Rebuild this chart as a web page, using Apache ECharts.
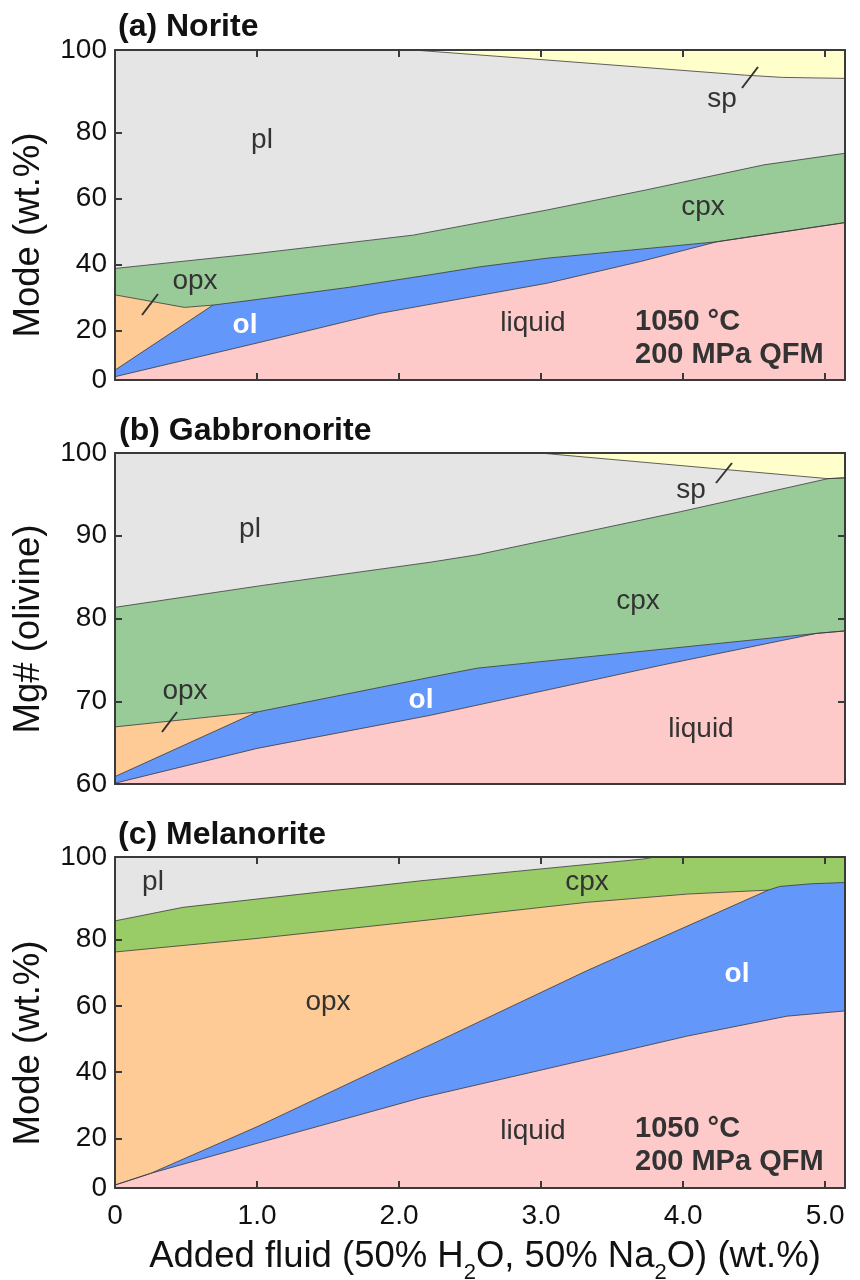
<!DOCTYPE html>
<html>
<head>
<meta charset="utf-8">
<script src="https://cdn.jsdelivr.net/npm/echarts@6/dist/echarts.min.js"></script>
<style>
html,body{margin:0;padding:0;background:#fff;}
#chart{width:860px;height:1280px;}
</style>
</head>
<body>
<div id="chart"></div>
<script>
// ---------- DATA (boundary tops of each phase field, cumulative wt.% / Mg#) ----------
// x = added fluid (wt.%)
// Panel (a) Norite
const aSpTop     = [[0,100],[5.14,100]];
const aPlTop     = [[0,100],[2.1,100],[3.0,97.1],[4.43,92.4],[4.7,91.7],[5.14,91.4]];
const aCpxTop    = [[0,33.8],[0.97,38.2],[2.10,43.9],[3.04,51.5],[3.74,57.6],[4.57,65.2],[5.14,68.7]];
const aOpxTop    = [[0,25.8],[0.49,22.0],[0.69,22.7]];
const aOlTop     = [[0,3.0],[0.69,22.7],[0.93,24.0],[1.65,28.1],[2.22,31.9],[2.57,34.3],[3.04,36.9],[4.24,41.9],[5.14,47.7]];
const aLiquidTop = [[0,1.0],[1.0,11.2],[1.866,20.2],[3.04,29.3],[3.70,35.9],[4.24,41.9],[5.14,47.7]];
// Panel (b) Gabbronorite (Mg# olivine axis)
const bSpTop     = [[0,100],[5.14,100]];
const bPlTop     = [[0,100],[2.99,100],[5.02,96.9],[5.14,97.0]];
const bCpxTop    = [[0,81.35],[1.04,84.0],[2.22,86.8],[2.55,87.7],[3.98,92.9],[5.02,96.9],[5.14,97.0]];
const bOpxTop    = [[0,66.9],[1.0,68.7]];
const bOlTop     = [[0,60.9],[1.0,68.7],[2.22,72.9],[2.55,74.0],[4.94,78.2],[5.14,78.5]];
const bLiquidTop = [[0,60.1],[1.0,64.3],[2.22,68.3],[3.86,74.4],[4.94,78.2],[5.14,78.5]];
// Panel (c) Melanorite
const cPlTop     = [[0,100],[5.14,100]];
const cCpxTop    = [[0,80.7],[0.48,84.8],[1.0,87.3],[2.15,92.8],[3.0,96.4],[3.72,99.4],[3.8,100],[5.14,100]];
const cOpxTop    = [[0,71.3],[1.0,75.4],[2.15,80.7],[3.32,86.3],[4.03,88.8],[4.6,90.0]];
const cOlTop     = [[0,0.9],[0.25,4.4],[1.0,18.5],[2.15,41.8],[3.32,65.6],[4.6,90.0],[4.68,91.1],[4.9,91.9],[5.14,92.3]];
const cLiquidTop = [[0,0.9],[0.25,4.4],[1.0,13.5],[2.15,27.2],[3.32,38.8],[4.03,45.9],[4.73,51.9],[5.14,53.5]];

// Axes / ticks
const xMax = 5.14;
const xTickValues = [0,1,2,3,4,5];
const xTickLabels = ['0','1.0','2.0','3.0','4.0','5.0'];
const modeLabelValues = [0,15,35,55,75,100];
const modeTickLabels  = ['0','20','40','60','80','100'];
const mgTickValues = [60,70,80,90,100];
const mgTickLabels = ['60','70','80','90','100'];

// ---------- CHART ----------
const FONT = '"Liberation Sans", Arial, Helvetica, sans-serif';
const C = {liquid:'#FDC9C9', ol:'#6497FA', opx:'#FECB97', cpx:'#99CB99', cpxC:'#99CB66', pl:'#E5E5E5', sp:'#FFFFCC'};
const AX = '#3a3a3a';

const chart = echarts.init(document.getElementById('chart'), null, {renderer:'canvas'});

const grids = [
  {left:115, top:50,  width:730, height:330},
  {left:115, top:453, width:730, height:331},
  {left:115, top:857, width:730, height:331}
];

function xAxisPair(gi, showTicks, showLabels){
  const base = {
    type:'value', gridIndex:gi, min:0, max:xMax, interval:1, z:10,
    splitLine:{show:false},
    axisLine:{show:true, onZero:false, lineStyle:{color:AX, width:2}},
    axisTick:{show:showTicks, inside:true, length:7, lineStyle:{color:AX, width:2}, customValues:xTickValues.slice(1)}
  };
  return [
    Object.assign({}, base, {position:'bottom',
      axisLabel:{show:showLabels, customValues:xTickValues, margin:14, fontSize:28, color:'#111', fontFamily:FONT,
        formatter:v=>{const i=xTickValues.indexOf(v);return i>=0?xTickLabels[i]:'';}}}),
    Object.assign({}, base, {position:'top', axisLabel:{show:false}})
  ];
}
function yAxisPair(gi, mode, rightTicks){
  const labelVals = mode ? modeLabelValues : mgTickValues;
  const labelTxt  = mode ? modeTickLabels : mgTickLabels;
  const tickVals  = labelVals.slice(1, labelVals.length-1);
  const base = {
    type:'value', gridIndex:gi, min:mode?0:60, max:100, z:10,
    splitLine:{show:false},
    axisLine:{show:true, onZero:false, lineStyle:{color:AX, width:2}},
  };
  return [
    Object.assign({}, base, {position:'left',
      axisTick:{show:true, inside:true, length:7, lineStyle:{color:AX, width:2}, customValues:tickVals},
      axisLabel:{show:true, customValues:labelVals, margin:8, fontSize:28, color:'#111', fontFamily:FONT,
        formatter:v=>{const i=labelVals.indexOf(v);return i>=0?labelTxt[i]:'';}}}),
    Object.assign({}, base, {position:'right',
      axisTick:{show:rightTicks, inside:true, length:7, lineStyle:{color:AX, width:2}, customValues:tickVals},
      axisLabel:{show:false}})
  ];
}

function area(gi, data, color, line){
  return {
    type:'line', xAxisIndex:gi*2, yAxisIndex:gi*2, data:data,
    symbol:'none', showSymbol:false, silent:true, animation:false,
    lineStyle:{width:line?0.8:0, color:'#3a3a3a'},
    areaStyle:{color:color, opacity:1, origin:'start'},
    z:2
  };
}

const series = [
  area(0,aSpTop,C.sp,false), area(0,aPlTop,C.pl,true), area(0,aCpxTop,C.cpx,true),
  area(0,aOpxTop,C.opx,true), area(0,aOlTop,C.ol,true), area(0,aLiquidTop,C.liquid,true),
  area(1,bSpTop,C.sp,false), area(1,bPlTop,C.pl,true), area(1,bCpxTop,C.cpx,true),
  area(1,bOpxTop,C.opx,true), area(1,bOlTop,C.ol,true), area(1,bLiquidTop,C.liquid,true),
  area(2,cPlTop,C.pl,false), area(2,cCpxTop,C.cpxC,true),
  area(2,cOpxTop,C.opx,true), area(2,cOlTop,C.ol,true), area(2,cLiquidTop,C.liquid,true)
];

function txt(x,y,t,opts){
  opts = opts||{};
  return {type:'text', x:x, y:y, z:100, silent:true, rotation:opts.rot||0,
    style:{text:t, fontFamily:FONT, fontSize:opts.size||28, fontWeight:opts.bold?'bold':'normal',
      fill:opts.color||'#333', align:opts.align||'center', verticalAlign:'middle'}};
}
function leader(x1,y1,x2,y2){
  return {type:'line', z:100, silent:true, shape:{x1:x1,y1:y1,x2:x2,y2:y2}, style:{stroke:'#333', lineWidth:2}};
}

const graphics = [
  // panel titles
  txt(118,27,'(a) Norite',{bold:true,size:32,align:'left',color:'#111'}),
  txt(119,431,'(b) Gabbronorite',{bold:true,size:32,align:'left',color:'#111'}),
  txt(118,835,'(c) Melanorite',{bold:true,size:32,align:'left',color:'#111'}),
  // y axis titles
  txt(29,235,'Mode (wt.%)',{size:36.5,rot:Math.PI/2,color:'#111'}),
  txt(29,629,'Mg# (olivine)',{size:36.5,rot:Math.PI/2,color:'#111'}),
  txt(29,1043,'Mode (wt.%)',{size:36.5,rot:Math.PI/2,color:'#111'}),
  // x axis title with subscripts
  {type:'text', x:485, y:1257, z:100, silent:true,
   style:{text:'Added fluid (50% H{s|2}O, 50% Na{s|2}O) (wt.%)', fontFamily:FONT, fontSize:36.5, lineHeight:54,
     fill:'#111', align:'center', verticalAlign:'middle',
     rich:{s:{fontFamily:FONT, fontSize:22, lineHeight:22, verticalAlign:'bottom', fill:'#111'}}}},
  // panel a labels
  txt(262,140,'pl'), txt(722,99,'sp'), leader(742,88,758,67),
  txt(703,207,'cpx'), txt(195,281,'opx'), leader(142,315,158,294),
  txt(245,325,'ol',{bold:true,size:28,color:'#fff'}), txt(533,323,'liquid'),
  txt(635,322,'1050 °C',{bold:true,size:29,align:'left'}),
  txt(635,355,'200 MPa QFM',{bold:true,size:29,align:'left'}),
  // panel b labels
  txt(250,529,'pl'), txt(691,490,'sp'), leader(716,483,732,463),
  txt(638,601,'cpx'), txt(185,691,'opx'), leader(162,732,177,712),
  txt(421,700,'ol',{bold:true,size:28,color:'#fff'}), txt(701,729,'liquid'),
  // panel c labels
  txt(153,882,'pl'), txt(587,882,'cpx'), txt(328,1002,'opx'),
  txt(737,974,'ol',{bold:true,size:28,color:'#fff'}), txt(533,1131,'liquid'),
  txt(635,1129,'1050 °C',{bold:true,size:29,align:'left'}),
  txt(635,1162,'200 MPa QFM',{bold:true,size:29,align:'left'})
];

const option = {
  backgroundColor:'#fff',
  animation:false,
  grid:grids,
  xAxis:[].concat(xAxisPair(0,true,false), xAxisPair(1,false,false), xAxisPair(2,true,true)),
  yAxis:[].concat(yAxisPair(0,true,false), yAxisPair(1,false,true), yAxisPair(2,true,false)),
  series:series,
  graphic:graphics
};
chart.setOption(option);
</script>
</body>
</html>
